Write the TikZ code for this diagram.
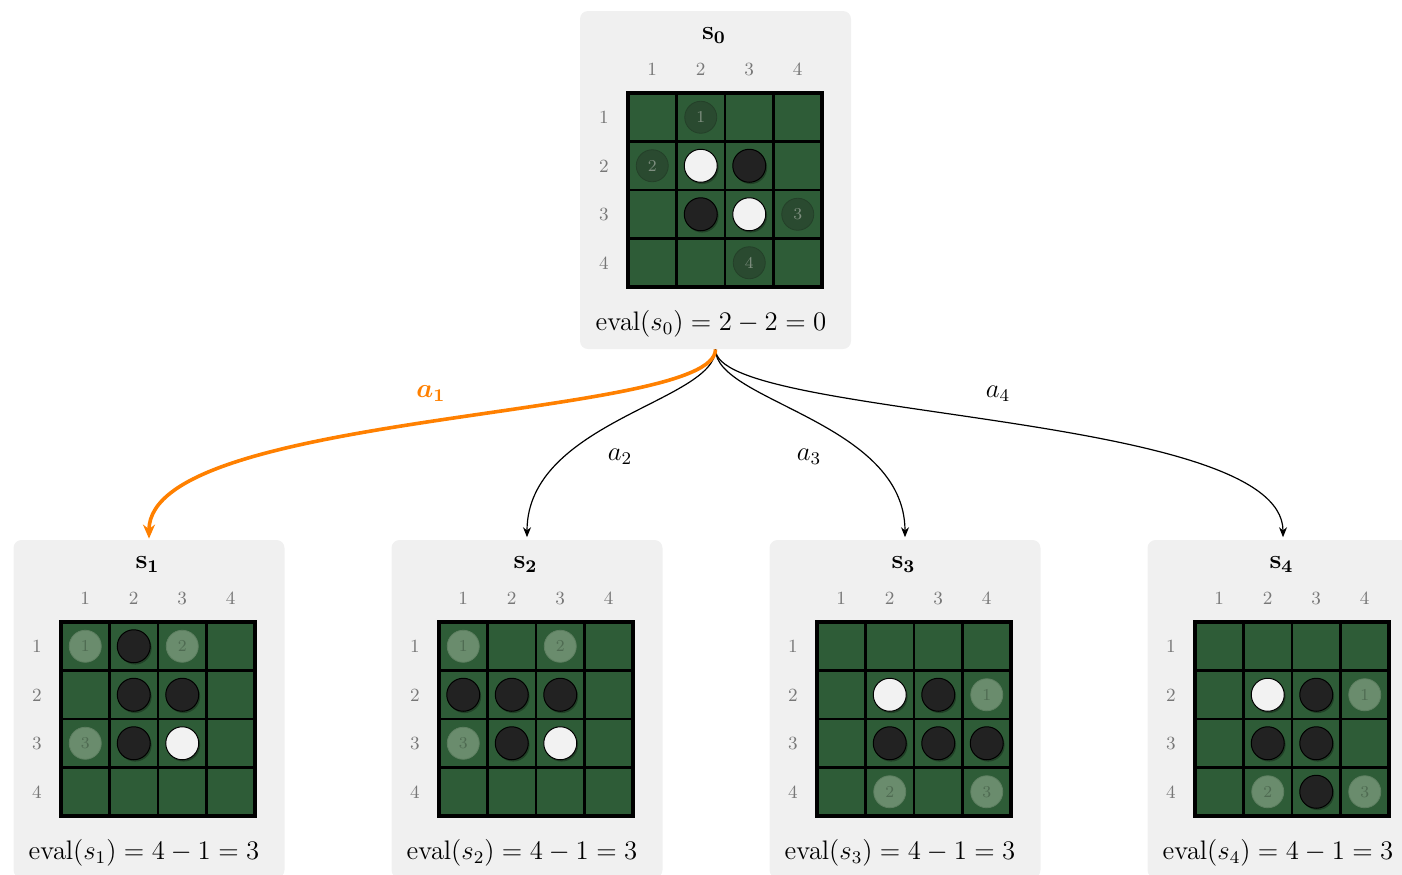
\documentclass[tikz,border=0pt]{standalone}
\usepackage{bm}
\usetikzlibrary{arrows.meta,shadows}
\definecolor{boxbg}{HTML}{F0F0F0}
\definecolor{boardgreen}{HTML}{2E5C37}
\definecolor{hintdark}{HTML}{2A4A30}
\definecolor{hintdarkline}{HTML}{244029}
\definecolor{hinttxtdark}{HTML}{7E8E7F}
\definecolor{hintlight}{HTML}{6A8C6D}
\definecolor{hintlightline}{HTML}{5E7F61}
\definecolor{hinttxtlight}{HTML}{4F6B52}
\definecolor{stonewhite}{HTML}{F2F2F2}
\definecolor{stoneblack}{HTML}{222222}
\definecolor{axgray}{HTML}{777777}
\definecolor{chosen}{HTML}{FF8000}
\newcommand{\mainsize}{\fontsize{12}{14}\selectfont}
\tikzset{
  statebox/.style={fill=boxbg, rounded corners=4pt, minimum width=135.5pt, minimum height=169pt, inner sep=0pt, draw=none},
  gridline/.style={draw=black, line width=1.35pt},
  gridframe/.style={draw=black, line width=1.6pt},
  axlbl/.style={text=axgray, font=\fontsize{9.3}{11}\selectfont, inner sep=0pt, anchor=base},
  bigtext/.style={font=\mainsize, inner sep=0pt, anchor=base, scale=1.1167, transform shape},
  titlelbl/.style={bigtext},
  evallbl/.style={bigtext},
  actlbl/.style={bigtext},
  stonebase/.style={circle, minimum size=16.5pt, inner sep=0pt, line width=0.5pt,
     drop shadow={shadow xshift=0.7pt, shadow yshift=-0.9pt, opacity=0.3, fill=black}},
  wstone/.style={stonebase, fill=stonewhite, draw=black},
  bstone/.style={stonebase, fill=stoneblack, draw=black},
  hintD/.style={circle, minimum size=16pt, inner sep=0pt, fill=hintdark, draw=hintdarkline, line width=0.4pt,
     text=hinttxtdark, font=\fontsize{8.3}{10}\selectfont},
  hintL/.style={circle, minimum size=16pt, inner sep=0pt, fill=hintlight, draw=hintlightline, line width=0.4pt,
     text=hinttxtlight, font=\fontsize{8.3}{10}\selectfont},
  edge/.style={draw=black, line width=0.6pt, -{Stealth[length=5pt, width=4pt]}, shorten >=1.2pt},
  bestedge/.style={draw=chosen, line width=1.8pt, -{Stealth[length=7pt, width=6pt]}, shorten >=0.5pt},
}
% board: #1 name, #2 left, #3 top
\newcommand{\drawboard}[3]{%
  \fill[boardgreen] (#2,#3) rectangle ++(194,194);
  \foreach \i in {1,2,3} {
    \draw[gridline] ({#2+\i*48.5},#3) -- ++(0,194);
    \draw[gridline] (#2,{#3+\i*48.5}) -- ++(194,0);
  }
  \draw[gridframe] (#2,#3) rectangle ++(194,194);
  \foreach \k in {1,...,4} {
    \node[axlbl] (#1-c\k) at ({#2+\k*48.5-24.25},{#3-17.5}) {\k};
    \node[axlbl] (#1-r\k) at ({#2-24},{#3+\k*48.5-18}) {\k};
  }
}
\newcommand{\Wst}[3]{\node[wstone] (#1) at ({(#3-0.5)*48.5},{(#2-0.5)*48.5}) {};}
\newcommand{\Bst}[3]{\node[bstone] (#1) at ({(#3-0.5)*48.5},{(#2-0.5)*48.5}) {};}
\newcommand{\HD}[4]{\node[hintD] (#1) at ({(#3-0.5)*48.5},{(#2-0.5)*48.5}) {#4};}
\newcommand{\HL}[4]{\node[hintL] (#1) at ({(#3-0.5)*48.5},{(#2-0.5)*48.5}) {#4};}
\begin{document}
\begin{tikzpicture}[x=0.5pt, y=-0.5pt]
\useasboundingbox (0,0) rectangle (1402,874);
\clip (0,0) rectangle (1402,874);

% state boxes
\node[statebox] (s0) at (715.5,180) {};
\node[statebox] (s1) at (149,709) {};
\node[statebox] (s2) at (527,709) {};
\node[statebox] (s3) at (905,709) {};
\node[statebox] (s4) at (1283,709) {};

% ---- s0
\node[titlelbl] (t0) at (714,39.5) {$\mathbf{s_0}$};
\drawboard{b0}{628}{93}
\begin{scope}[shift={(628,93)}]
  \HD{s0h1}{1}{2}{1}
  \HD{s0h2}{2}{1}{2}
  \HD{s0h3}{3}{4}{3}
  \HD{s0h4}{4}{3}{4}
  \Wst{s0w22}{2}{2}
  \Bst{s0b23}{2}{3}
  \Bst{s0b32}{3}{2}
  \Wst{s0w33}{3}{3}
\end{scope}
\node[evallbl] (e0) at (711,330) {$\mathrm{eval}(s_0) = 2 - 2 = 0$};

% ---- s1
\node[titlelbl] (t1) at (147.5,568.5) {$\mathbf{s_1}$};
\drawboard{b1}{61}{622}
\begin{scope}[shift={(61,622)}]
  \HL{s1h1}{1}{1}{1}
  \Bst{s1b12}{1}{2}
  \HL{s1h2}{1}{3}{2}
  \Bst{s1b22}{2}{2}
  \Bst{s1b23}{2}{3}
  \HL{s1h3}{3}{1}{3}
  \Bst{s1b32}{3}{2}
  \Wst{s1w33}{3}{3}
\end{scope}
\node[evallbl] (e1) at (144,859) {$\mathrm{eval}(s_1) = 4 - 1 = 3$};

% ---- s2
\node[titlelbl] (t2) at (525.5,568.5) {$\mathbf{s_2}$};
\drawboard{b2}{439}{622}
\begin{scope}[shift={(439,622)}]
  \HL{s2h1}{1}{1}{1}
  \HL{s2h2}{1}{3}{2}
  \Bst{s2b21}{2}{1}
  \Bst{s2b22}{2}{2}
  \Bst{s2b23}{2}{3}
  \HL{s2h3}{3}{1}{3}
  \Bst{s2b32}{3}{2}
  \Wst{s2w33}{3}{3}
\end{scope}
\node[evallbl] (e2) at (522,859) {$\mathrm{eval}(s_2) = 4 - 1 = 3$};

% ---- s3
\node[titlelbl] (t3) at (903.5,568.5) {$\mathbf{s_3}$};
\drawboard{b3}{817}{622}
\begin{scope}[shift={(817,622)}]
  \Wst{s3w22}{2}{2}
  \Bst{s3b23}{2}{3}
  \HL{s3h1}{2}{4}{1}
  \Bst{s3b32}{3}{2}
  \Bst{s3b33}{3}{3}
  \Bst{s3b34}{3}{4}
  \HL{s3h2}{4}{2}{2}
  \HL{s3h3}{4}{4}{3}
\end{scope}
\node[evallbl] (e3) at (900,859) {$\mathrm{eval}(s_3) = 4 - 1 = 3$};

% ---- s4
\node[titlelbl] (t4) at (1281.5,568.5) {$\mathbf{s_4}$};
\drawboard{b4}{1195}{622}
\begin{scope}[shift={(1195,622)}]
  \Wst{s4w22}{2}{2}
  \Bst{s4b23}{2}{3}
  \HL{s4h1}{2}{4}{1}
  \Bst{s4b32}{3}{2}
  \Bst{s4b33}{3}{3}
  \HL{s4h2}{4}{2}{2}
  \Bst{s4b43}{4}{3}
  \HL{s4h3}{4}{4}{3}
\end{scope}
\node[evallbl] (e4) at (1278,859) {$\mathrm{eval}(s_4) = 4 - 1 = 3$};

% ---- edges
\draw[edge] (s0.south) .. controls +(0,52) and +(0,-118) .. (s2.north);
\draw[edge] (s0.south) .. controls +(0,52) and +(0,-118) .. (s3.north);
\draw[edge] (s0.south) .. controls +(0,70) and +(0,-129) .. (s4.north);
\draw[bestedge] (s0.south) .. controls +(0,70) and +(0,-129) .. (s1.north);

\node[actlbl, text=chosen] (l1) at (431,397) {$\bm{a_1}$};
\node[actlbl] (l2) at (620,460) {$a_2$};
\node[actlbl] (l3) at (809,460) {$a_3$};
\node[actlbl] (l4) at (998,397) {$a_4$};
\end{tikzpicture}
\end{document}
